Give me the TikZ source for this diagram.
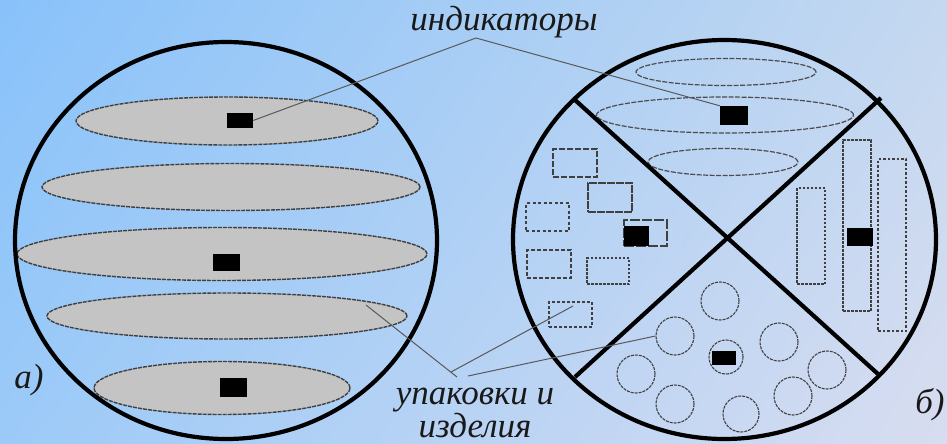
\documentclass[tikz,border=0pt]{standalone}
\usepackage{fontspec}
\setmainfont{Liberation Serif}
\usetikzlibrary{shapes.geometric,shadings}
\definecolor{bgUL}{RGB}{136,194,250}
\definecolor{bgUR}{RGB}{196,216,240}
\definecolor{bgLL}{RGB}{156,202,248}
\definecolor{bgLR}{RGB}{216,221,240}
\definecolor{diskgray}{RGB}{196,196,196}
\begin{document}
\begin{tikzpicture}[x=1pt,y=-1pt,
  disk/.style={ellipse, draw=black!75, fill=diskgray, line width=1.4pt, dash pattern=on 4pt off 1pt, inner sep=0pt},
  ring/.style={ellipse, draw=black!70, line width=1.2pt, dash pattern=on 5pt off 1.5pt, inner sep=0pt},
  ind/.style={rectangle, fill=black, inner sep=0pt},
  box/.style={rectangle, draw=black!75, line width=1.2pt, dash pattern=on 3pt off 1.5pt, inner sep=0pt},
  ball/.style={circle, draw=black!75, line width=1.1pt, dash pattern=on 3pt off 1pt, inner sep=0pt, minimum size=38pt},
  border/.style={line width=4.2pt, draw=black},
  lead/.style={draw=black!65, line width=1pt},
  lbl/.style={font=\itshape\fontsize{35}{33}\selectfont, text=black!90, inner sep=0pt}
]
\useasboundingbox (0,0) rectangle (947,444);
\shade[upper left=bgUL, upper right=bgUR, lower left=bgLL, lower right=bgLR] (0,0) rectangle (947,444);

% ---------- left picture a) ----------
\node[disk, minimum width=302pt, minimum height=48pt] (e1) at (227,121) {};
\node[disk, minimum width=378pt, minimum height=47pt] (e2) at (231,187) {};
\node[disk, minimum width=410pt, minimum height=53pt] (e3) at (222,254) {};
\node[disk, minimum width=360pt, minimum height=46pt] (e4) at (227,316) {};
\node[disk, minimum width=256pt, minimum height=53pt] (e5) at (222,388) {};
\node[ind, minimum width=26pt, minimum height=15pt] (i1) at (240,120.5) {};
\node[ind, minimum width=27pt, minimum height=17pt] (i3) at (226.5,262.5) {};
\node[ind, minimum width=27pt, minimum height=19pt] (i5) at (233.5,387.5) {};
\draw[border] (226,240.5) ellipse [x radius=211, y radius=198.5];

% ---------- right picture b) ----------
% top sector
\node[ring, minimum width=180pt, minimum height=27pt] (ra) at (726,72) {};
\node[ring, minimum width=257pt, minimum height=36pt] (rb) at (725,115) {};
\node[ring, minimum width=150pt, minimum height=27pt] (rc) at (723,162) {};
\node[ind, minimum width=28pt, minimum height=19pt] (ib) at (734,115.5) {};
% left sector
\node[box, minimum width=44pt, minimum height=28pt, dash pattern=on 6pt off 2pt] (r1) at (575,163) {};
\node[box, minimum width=44pt, minimum height=29pt, dash pattern=on 8pt off 1pt] (r2) at (610,197.5) {};
\node[box, minimum width=43pt, minimum height=28pt, dash pattern=on 3pt off 2.5pt] (r3) at (547.5,217) {};
\node[box, minimum width=43pt, minimum height=26pt, dash pattern=on 10pt off 2pt] (r4) at (645.5,233) {};
\node[ind, minimum width=25pt, minimum height=20pt] (i4) at (636.5,236) {};
\node[box, minimum width=44pt, minimum height=28pt, dash pattern=on 4pt off 2pt] (r5) at (549,264) {};
\node[box, minimum width=42pt, minimum height=26pt, dash pattern=on 2.5pt off 1.5pt] (r6) at (608,271) {};
\node[box, minimum width=43pt, minimum height=25pt, dash pattern=on 3pt off 2pt] (r7) at (570.5,314.5) {};
% right sector
\node[box, minimum width=28pt, minimum height=96pt, dash pattern=on 2.5pt off 1.5pt] (v1) at (811,236) {};
\node[box, minimum width=28pt, minimum height=171pt, dash pattern=on 3pt off 1pt] (v2) at (857,225.5) {};
\node[ind, minimum width=26pt, minimum height=18pt] (i2) at (860,237) {};
\node[box, minimum width=28pt, minimum height=172pt, dash pattern=on 2.5pt off 2pt] (v3) at (892,245) {};
% bottom sector
\node[ball] (c1) at (720,301) {};
\node[ball] (c2) at (675,336) {};
\node[ball, minimum size=34pt] (c3) at (726,357) {};
\node[ind, minimum width=24pt, minimum height=14pt] (ic) at (724,358) {};
\node[ball] (c4) at (779,342) {};
\node[ball] (c5) at (636,374) {};
\node[ball] (c6) at (827,370) {};
\node[ball] (c7) at (675,404) {};
\node[ball] (c8) at (793,396) {};
\node[ball, minimum size=36pt] (c9) at (741,414) {};
% cross and outline
\coordinate (xa) at (575,100);
\coordinate (xb) at (881,98);
\coordinate (xc) at (575,377);
\coordinate (xd) at (878,374);
\draw[border] (xa) -- (xd);
\draw[border] (xb) -- (xc);
\draw[border] (724.5,239.5) ellipse [x radius=211.5, y radius=199.5];

% ---------- labels and leaders ----------
\node[lbl] (tind) at (504,22) {индикаторы};
\coordinate (indc) at (476,38);
\draw[lead] (indc) -- (i1.east);
\draw[lead] (indc) -- (ib.north west);

\node[lbl, align=center] (tup) at (475,413) {упаковки и\\изделия};
\coordinate (ua) at (457,377);
\coordinate (ub) at (451,372);
\coordinate (uc) at (468,376);
\coordinate (e4p) at (366,305);
\coordinate (r7p) at (573,306);
\draw[lead] (ua) -- (e4p);
\draw[lead] (ub) -- (r7p);
\draw[lead] (uc) -- (c2.west);

\node[lbl] (ta) at (29,380) {а)};
\node[lbl] (tb) at (930,405) {б)};
\end{tikzpicture}
\end{document}
